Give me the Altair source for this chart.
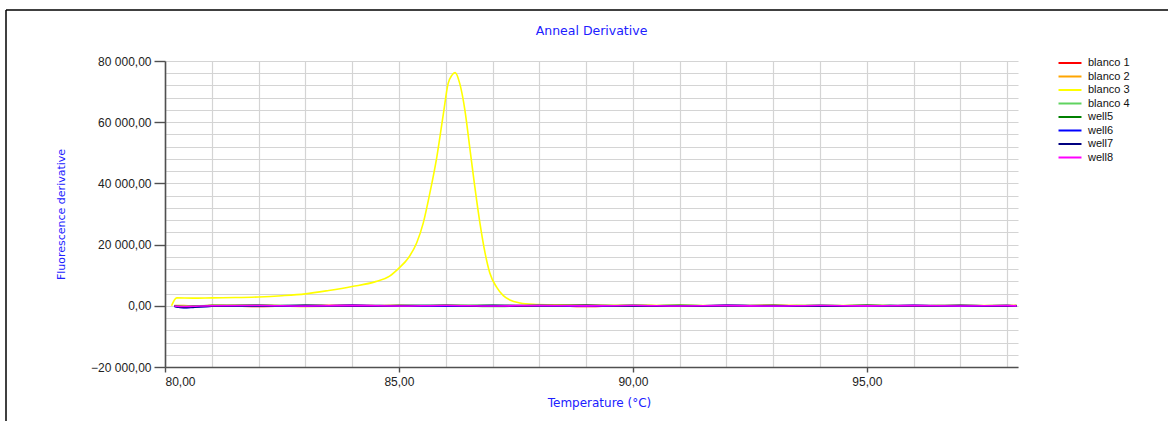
import altair as alt
import pandas as pd

# Series names and line colours (legend order)
SERIES = ["blanco 1", "blanco 2", "blanco 3", "blanco 4", "well5", "well6", "well7", "well8"]
COLORS = ["#ff0000", "#ffa500", "#ffff00", "#5fd35f", "#008000", "#0000ff", "#000080", "#ff00ff"]

# Melt curve of blanco 3 (temperature in °C, derivative of fluorescence)
B3_TEMP = [80.14, 80.25, 80.6, 81.0, 81.5, 82.0, 82.5, 83.0, 83.5, 84.0, 84.5, 84.8,
           85.0, 85.2, 85.38, 85.52, 85.66, 85.81, 85.95, 86.05, 86.13, 86.2, 86.3,
           86.41, 86.52, 86.62, 86.73, 86.84, 86.94, 87.09, 87.23, 87.37, 87.59,
           87.87, 88.23, 89.0, 90.0, 91.0, 92.0, 93.0, 94.0, 95.0, 96.0, 97.0, 98.0, 98.2]
B3_VALUE = [0, 2600, 2500, 2600, 2700, 2900, 3300, 3900, 5000, 6300, 7900, 9700,
            12300, 15600, 20600, 27100, 36800, 48700, 62800, 72600, 75300, 76200, 72600,
            63900, 50900, 39000, 27100, 17300, 10800, 6000, 3300, 1900, 900,
            450, 300, 200, 150, 120, 100, 90, 80, 80, 70, 60, 60, 50]

# The remaining wells stay on the baseline
BASE_TEMP = [80.2, 80.4, 80.6, 81.0, 82.0, 83.0, 84.0, 85.0, 86.0, 87.0, 88.0,
             89.0, 90.0, 91.0, 92.0, 93.0, 94.0, 95.0, 96.0, 97.0, 98.0, 98.2]
BLANCO_1 = [0, -150, -100, 120, -200, 100, 150, -120, 80, -60, 200, -250, 150, -100, 120, -80, 60, -150, 100, -120, 90, 0]
BLANCO_2 = [100, 80, -120, 60, 140, -180, -90, 200, -150, 110, -80, 190, -160, 70, -110, 180, -60, 50, -140, 120, -70, 60]
BLANCO_4 = [-80, -200, -60, 90, -150, 130, -170, 60, 140, -190, 120, -60, 170, -130, 90, -40, 150, -110, 60, -90, 140, -50]
WELL_5 = [-100, -300, -200, 50, 160, -60, 110, -170, 50, 160, -120, 80, -90, 150, -170, 60, -120, 180, -80, 40, -130, 70]
WELL_6 = [-200, -600, -500, -150, 60, -110, 170, -60, -140, 90, 50, -170, 110, -60, 140, -150, 80, -40, 160, -100, 50, -80]
WELL_7 = [-150, -550, -450, -100, -60, 140, -110, 90, 120, -160, 60, 130, -70, -140, 50, 110, -150, 90, -60, 150, -110, 40]
WELL_8 = [-50, -250, -150, 40, 90, -70, 60, -50, 100, -80, 70, -40, 90, -60, 50, -70, 80, -40, 60, -50, 70, -20]

# Axis tick positions
X_TICKS = list(range(80, 99))
Y_TICKS = list(range(-20000, 80001, 4000))

rows = []
baseline = {"blanco 1": BLANCO_1, "blanco 2": BLANCO_2, "blanco 4": BLANCO_4,
            "well5": WELL_5, "well6": WELL_6, "well7": WELL_7, "well8": WELL_8}
for name in SERIES:
    if name == "blanco 3":
        temps, vals = B3_TEMP, B3_VALUE
    else:
        temps, vals = BASE_TEMP, baseline[name]
    for order, (t, v) in enumerate(zip(temps, vals)):
        rows.append({"series": name, "temp": t, "value": v, "order": order})
df = pd.DataFrame(rows)

LABEL_FONT = "Liberation Sans"
TITLE_FONT = "DejaVu Sans"

lines = alt.Chart(df).mark_line(strokeWidth=1.6, interpolate="monotone").encode(
    x=alt.X(
        "temp:Q",
        scale=alt.Scale(domain=[80, 98.23], nice=False, zero=False),
        axis=alt.Axis(
            title="Temperature (°C)",
            values=X_TICKS,
            labelExpr="datum.value % 5 === 0 ? replace(format(datum.value, '.2f'), '.', ',') : ''",
            tickOpacity={"condition": {"test": "datum.value % 5 === 0", "value": 1}, "value": 0},
            tickSize=5,
            labelPadding=4,
            titlePadding=10,
            titleX=434,
        ),
    ),
    y=alt.Y(
        "value:Q",
        scale=alt.Scale(domain=[-20000, 80000], nice=False, zero=False),
        axis=alt.Axis(
            title="Fluorescence derivative",
            titleFontSize=11,
            values=Y_TICKS,
            labelExpr="datum.value % 20000 === 0 ? replace(replace(format(datum.value, ',.2f'), ',', ' '), '.', ',') : ''",
            tickOpacity={"condition": {"test": "datum.value % 20000 === 0", "value": 1}, "value": 0},
            tickSize=11,
            labelPadding=3,
            titlePadding=24,
        ),
    ),
    color=alt.Color(
        "series:N",
        scale=alt.Scale(domain=SERIES, range=COLORS),
        sort=SERIES,
        legend=alt.Legend(
            title=None,
            orient="none",
            legendX=898,
            legendY=-5,
            symbolType="M-2,0H2",
            symbolSize=132,
            symbolStrokeWidth=2,
            labelFont=LABEL_FONT,
            labelFontSize=11,
            labelColor="#111111",
            labelOffset=11,
            rowPadding=1.5,
            padding=0,
        ),
    ),
    order="order:Q",
)

frame_data = pd.DataFrame({"k": [0]})
frame_top = alt.Chart(frame_data).mark_rule(color="black", strokeWidth=1.5).encode(
    x=alt.value(-159), x2=alt.value(1003), y=alt.value(-51)
)
frame_left = alt.Chart(frame_data).mark_rule(color="black", strokeWidth=1.5).encode(
    x=alt.value(-159), y=alt.value(-51), y2=alt.value(360)
)

chart = alt.layer(lines, frame_top, frame_left).properties(
    width=853,
    height=306,
    title=alt.TitleParams(
        "Anneal Derivative",
        font=TITLE_FONT,
        fontSize=12.5,
        fontWeight="normal",
        color="#2020ff",
        anchor="middle",
        frame="group",
        baseline="bottom",
        offset=0,
        dy=41,
    ),
    autosize=alt.AutoSizeParams(type="none"),
    padding={"left": 165, "top": 61, "right": 150, "bottom": 54},
).configure(
    background="white",
).configure_view(
    strokeOpacity=0,
).configure_axis(
    grid=True,
    gridColor="#d4d4d4",
    gridWidth=1.2,
    domainColor="#505050",
    domainWidth=1.6,
    tickColor="#505050",
    tickWidth=1.4,
    labelFont=LABEL_FONT,
    labelFontSize=12,
    labelColor="#222222",
    titleFont=TITLE_FONT,
    titleFontSize=12,
    titleFontWeight="normal",
    titleColor="#2020ff",
)

chart.save("out.html", embed_options={"renderer": "svg", "actions": False})
